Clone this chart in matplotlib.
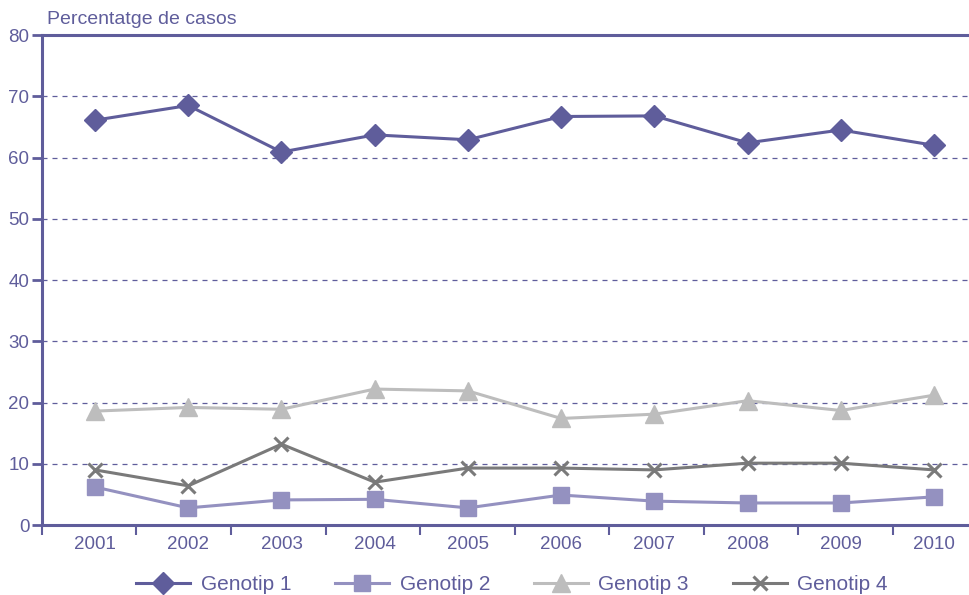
import numpy as np
import matplotlib.pyplot as plt

years = ['2001', '2002', '2003', '2004', '2005', '2006', '2007', '2008', '2009', '2010']
genotip1 = [66.1, 68.5, 60.9, 63.7, 62.9, 66.7, 66.8, 62.4, 64.5, 62.0]
genotip2 = [6.2, 2.8, 4.1, 4.2, 2.8, 4.9, 3.9, 3.6, 3.6, 4.6]
genotip3 = [18.6, 19.2, 18.9, 22.2, 21.9, 17.4, 18.1, 20.3, 18.7, 21.2]
genotip4 = [9.0, 6.4, 13.2, 7.0, 9.3, 9.3, 9.0, 10.1, 10.1, 9.0]

purple = '#5f5d9b'
plt.rcParams['font.family'] = ['Liberation Sans', 'DejaVu Sans']

fig = plt.figure(figsize=(9.69, 5.95), dpi=100)
ax = fig.add_axes([0.0433, 0.1176, 0.9567, 0.8235])

x = np.arange(len(years))
ax.plot(x, genotip1, color=purple, lw=2.2, marker='D', ms=11.5, label='Genotip 1', zorder=5)
ax.plot(x, genotip2, color='#9491c0', lw=2.2, marker='s', ms=12, label='Genotip 2', zorder=4)
ax.plot(x, genotip3, color='#bdbdbd', lw=2.2, marker='^', ms=13, label='Genotip 3', zorder=3)
ax.plot(x, genotip4, color='#7a7a7a', lw=2.2, marker='x', ms=10, mew=2.2, label='Genotip 4', zorder=4)

ax.set_ylim(0, 80)
ax.set_xlim(-0.569, 9.375)
ax.set_yticks(np.arange(0, 81, 10))
ax.set_xticks(x)
ax.set_xticklabels(years)
ax.set_xticks(-0.569 + 1.014 * np.arange(10), minor=True)

for y in range(10, 80, 10):
    ax.axhline(y, color=purple, lw=0.9, dashes=(4, 4), zorder=1)

for s in ['left', 'bottom', 'top']:
    ax.spines[s].set_color(purple)
    ax.spines[s].set_linewidth(2.2)
ax.spines['right'].set_visible(False)

ax.tick_params(axis='y', direction='out', length=7, width=2, color=purple,
               labelcolor=purple, labelsize=13.5, pad=2)
ax.tick_params(axis='x', which='major', length=0, labelcolor=purple, labelsize=13.5, pad=8)
ax.tick_params(axis='x', which='minor', direction='out', length=7, width=1.5, color=purple)

fig.text(0.0485, 0.968, 'Percentatge de casos', color=purple, fontsize=14, ha='left', va='center')

leg = ax.legend(loc='center', bbox_to_anchor=(0.507, -0.122), ncol=4, frameon=False,
                fontsize=15, handlelength=2.6, handletextpad=0.5, columnspacing=2.1,
                borderpad=0.1)
for t in leg.get_texts():
    t.set_color(purple)

fig.savefig('out.png', dpi=100)
